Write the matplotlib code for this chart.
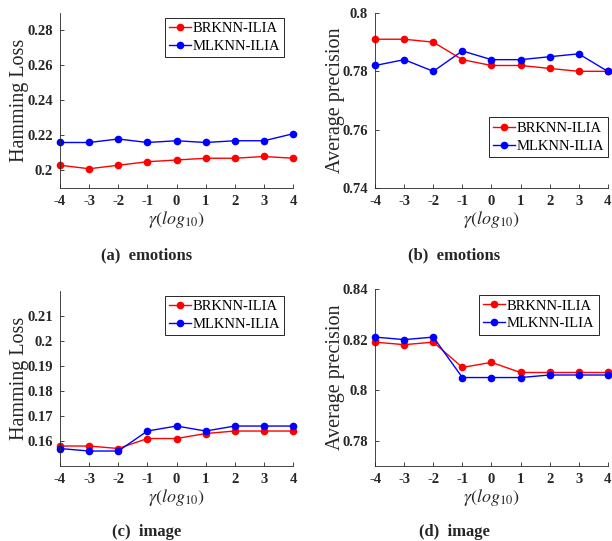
import matplotlib
matplotlib.use("Agg")
import matplotlib.pyplot as plt

plt.rcParams["font.family"] = ["Liberation Serif", "DejaVu Serif"]
plt.rcParams["mathtext.fontset"] = "stix"

# gamma (log10) 取值
gamma = [-4, -3, -2, -1, 0, 1, 2, 3, 4]

# (a) emotions - Hamming Loss
emo_hl_br = [0.203, 0.201, 0.203, 0.205, 0.206, 0.207, 0.207, 0.208, 0.207]
emo_hl_ml = [0.216, 0.216, 0.218, 0.216, 0.217, 0.216, 0.217, 0.217, 0.221]
# (b) emotions - Average precision
emo_ap_br = [0.791, 0.791, 0.790, 0.784, 0.782, 0.782, 0.781, 0.780, 0.780]
emo_ap_ml = [0.782, 0.784, 0.780, 0.787, 0.784, 0.784, 0.785, 0.786, 0.780]
# (c) image - Hamming Loss
img_hl_br = [0.158, 0.158, 0.157, 0.161, 0.161, 0.163, 0.164, 0.164, 0.164]
img_hl_ml = [0.157, 0.156, 0.156, 0.164, 0.166, 0.164, 0.166, 0.166, 0.166]
# (d) image - Average precision
img_ap_br = [0.819, 0.818, 0.819, 0.809, 0.811, 0.807, 0.807, 0.807, 0.807]
img_ap_ml = [0.821, 0.820, 0.821, 0.805, 0.805, 0.805, 0.806, 0.806, 0.806]

panels = [
    # (位置, 数据红, 数据蓝, ylabel, ylim, yticks, yticklabels, 图例锚点, 标题, 标题位置)
    ([0.098, 0.6525, 0.381, 0.3235], emo_hl_br, emo_hl_ml, "Hamming Loss",
     (0.19, 0.29), [0.20, 0.22, 0.24, 0.26, 0.28],
     ["0.2", "0.22", "0.24", "0.26", "0.28"], ("upper right", (0.975, 0.99)),
     "(a)  emotions", (0.239, 0.5287)),
    ([0.613, 0.6525, 0.380, 0.3235], emo_ap_br, emo_ap_ml, "Average precision",
     (0.74, 0.80), [0.74, 0.76, 0.78, 0.80],
     ["0.74", "0.76", "0.78", "0.8"], ("center right", (1.015, 0.29)),
     "(b)  emotions", (0.742, 0.5287)),
    ([0.098, 0.1386, 0.381, 0.3234], img_hl_br, img_hl_ml, "Hamming Loss",
     (0.15, 0.22), [0.16, 0.17, 0.18, 0.19, 0.20, 0.21],
     ["0.16", "0.17", "0.18", "0.19", "0.2", "0.21"], ("upper right", (0.975, 0.99)),
     "(c)  image", (0.239, 0.0166)),
    ([0.613, 0.1386, 0.380, 0.3271], img_ap_br, img_ap_ml, "Average precision",
     (0.77, 0.84), [0.78, 0.80, 0.82, 0.84],
     ["0.78", "0.8", "0.82", "0.84"], ("upper right", (0.973, 0.983)),
     "(d)  image", (0.742, 0.0166)),
]

fig = plt.figure(figsize=(6.12, 5.41), dpi=100)

for pos, br, ml, ylab, ylim, yt, ytl, (loc, anchor), cap, (capx, capy) in panels:
    ax = fig.add_axes(pos)
    ax.plot(gamma, br, color="#ff0000", marker="o", markersize=4.5,
            linewidth=1.0, label="BRKNN-ILIA", clip_on=False)
    ax.plot(gamma, ml, color="#0000ff", marker="o", markersize=4.5,
            linewidth=1.0, label="MLKNN-ILIA", clip_on=False)
    ax.set_xlim(-4, 4)
    ax.set_ylim(*ylim)
    ax.set_xticks(gamma)
    ax.set_xticklabels([str(g) for g in gamma], fontweight="bold", fontsize=10.5)
    ax.set_yticks(yt)
    ax.set_yticklabels(ytl, fontweight="bold", fontsize=10.5)
    ax.spines["top"].set_visible(False)
    ax.spines["right"].set_visible(False)
    for s in ("left", "bottom"):
        ax.spines[s].set_color("#262626")
        ax.spines[s].set_linewidth(0.6)
    ax.tick_params(direction="in", length=3, width=0.6, colors="#262626",
                   labelcolor="#262626", pad=5)
    ax.set_ylabel(ylab, fontsize=14.5, color="#262626", labelpad=-1.5)
    ax.set_xlabel(r"$\gamma(log_{10})$", fontsize=13, color="#262626", labelpad=1)
    leg = ax.legend(loc=loc, bbox_to_anchor=anchor, fontsize=10.5,
                    frameon=True, fancybox=False, handlelength=1.5,
                    handletextpad=0.1, borderpad=0.3, labelspacing=0.3,
                    borderaxespad=0.2, framealpha=1.0)
    leg.get_frame().set_edgecolor("#262626")
    leg.get_frame().set_linewidth(0.7)
    fig.text(capx, capy, cap, ha="center", va="center", fontsize=12,
             fontweight="bold", color="#262626")

fig.savefig("out.png", dpi=100)
